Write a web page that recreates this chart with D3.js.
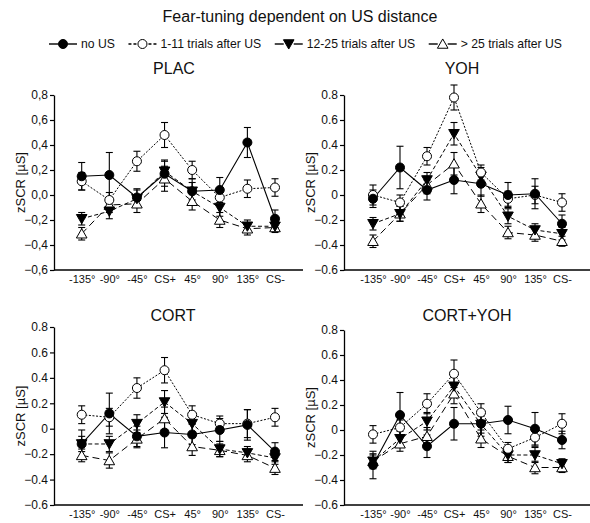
<!DOCTYPE html>
<html>
<head>
<meta charset="utf-8">
<script src="https://cdn.jsdelivr.net/npm/d3@7"></script>
<style>
  html, body { margin: 0; padding: 0; background: #fff; }
  svg { display: block; font-family: Arial, "Liberation Sans", sans-serif; }
</style>
</head>
<body>
<svg id="chart" width="590" height="523"></svg>
<script>
// Generalization stimuli (angle from CS+) on the x axis
const categories = ["-135°", "-90°", "-45°", "CS+", "45°", "90°", "135°", "CS-"];
const yTicks = [-0.6, -0.4, -0.2, 0, 0.2, 0.4, 0.6, 0.8];

const seriesNames = ["no US", "1-11 trials after US", "12-25 trials after US", "> 25 trials after US"];

// PLAC
const placNoUS   = [0.15, 0.16, -0.02, 0.17, 0.03, 0.04, 0.42, -0.19];
const placEarly  = [0.11, -0.04, 0.27, 0.48, 0.20, -0.02, 0.05, 0.06];
const placMid    = [-0.19, -0.13, -0.03, 0.19, 0.03, -0.10, -0.25, -0.25];
const placLate   = [-0.31, -0.08, -0.07, 0.13, -0.05, -0.20, -0.27, -0.26];
const placNoUSErr  = [0.11, 0.18, 0.07, 0.10, 0.10, 0.10, 0.12, 0.07];
const placEarlyErr = [0.07, 0.06, 0.08, 0.10, 0.07, 0.06, 0.07, 0.07];
const placMidErr   = [0.05, 0.06, 0.07, 0.09, 0.07, 0.07, 0.05, 0.04];
const placLateErr  = [0.05, 0.06, 0.07, 0.10, 0.07, 0.06, 0.05, 0.04];

// YOH
const yohNoUS    = [-0.03, 0.22, 0.04, 0.12, 0.09, 0.00, 0.01, -0.23];
const yohEarly   = [0.00, -0.06, 0.31, 0.78, 0.18, -0.03, 0.00, -0.06];
const yohMid     = [-0.23, -0.15, 0.12, 0.49, 0.15, -0.17, -0.28, -0.31];
const yohLate    = [-0.37, -0.15, 0.08, 0.25, -0.07, -0.30, -0.32, -0.37];
const yohNoUSErr  = [0.07, 0.17, 0.08, 0.11, 0.10, 0.10, 0.12, 0.07];
const yohEarlyErr = [0.08, 0.06, 0.07, 0.10, 0.06, 0.06, 0.07, 0.07];
const yohMidErr   = [0.05, 0.06, 0.06, 0.09, 0.07, 0.06, 0.05, 0.05];
const yohLateErr  = [0.05, 0.06, 0.07, 0.09, 0.07, 0.05, 0.05, 0.04];

// CORT
const cortNoUS   = [-0.12, 0.12, -0.06, -0.03, -0.045, -0.01, 0.03, -0.18];
const cortEarly  = [0.11, 0.09, 0.32, 0.46, 0.11, 0.04, 0.04, 0.09];
const cortMid    = [-0.12, -0.12, 0.04, 0.21, 0.04, -0.16, -0.19, -0.23];
const cortLate   = [-0.21, -0.25, -0.08, 0.08, -0.14, -0.17, -0.21, -0.31];
const cortNoUSErr  = [0.11, 0.16, 0.08, 0.12, 0.08, 0.09, 0.12, 0.07];
const cortEarlyErr = [0.07, 0.07, 0.08, 0.10, 0.07, 0.06, 0.11, 0.07];
const cortMidErr   = [0.06, 0.06, 0.07, 0.09, 0.07, 0.06, 0.05, 0.05];
const cortLateErr  = [0.05, 0.06, 0.07, 0.09, 0.07, 0.05, 0.05, 0.05];

// CORT+YOH
const cyNoUS     = [-0.28, 0.12, -0.13, 0.05, 0.05, 0.08, 0.01, -0.08];
const cyEarly    = [-0.035, 0.02, 0.21, 0.45, 0.14, -0.15, -0.06, 0.05];
const cyMid      = [-0.25, -0.07, 0.07, 0.35, 0.045, -0.20, -0.20, -0.27];
const cyLate     = [-0.25, -0.11, -0.05, 0.29, -0.07, -0.21, -0.30, -0.30];
const cyNoUSErr  = [0.11, 0.18, 0.09, 0.13, 0.10, 0.11, 0.13, 0.07];
const cyEarlyErr = [0.07, 0.06, 0.08, 0.11, 0.07, 0.05, 0.07, 0.08];
const cyMidErr   = [0.06, 0.06, 0.07, 0.08, 0.07, 0.06, 0.06, 0.04];
const cyLateErr  = [0.05, 0.06, 0.07, 0.08, 0.07, 0.05, 0.05, 0.04];

const panels = [
  { title: "PLAC", means: [placNoUS, placEarly, placMid, placLate],
    errs: [placNoUSErr, placEarlyErr, placMidErr, placLateErr],
    axisX: 54, axisEnd: 303, first: 81.7, last: 275, top: 95, bottom: 270,
    titleY: 74, titleX: 174, comma: true },
  { title: "YOH", means: [yohNoUS, yohEarly, yohMid, yohLate],
    errs: [yohNoUSErr, yohEarlyErr, yohMidErr, yohLateErr],
    axisX: 344, axisEnd: 590, first: 373, last: 562, top: 95, bottom: 270,
    titleY: 74, titleX: 462, comma: false },
  { title: "CORT", means: [cortNoUS, cortEarly, cortMid, cortLate],
    errs: [cortNoUSErr, cortEarlyErr, cortMidErr, cortLateErr],
    axisX: 54, axisEnd: 303, first: 81.7, last: 275, top: 327, bottom: 505,
    titleY: 321, titleX: 173, comma: false },
  { title: "CORT+YOH", means: [cyNoUS, cyEarly, cyMid, cyLate],
    errs: [cyNoUSErr, cyEarlyErr, cyMidErr, cyLateErr],
    axisX: 344, axisEnd: 590, first: 373, last: 562, top: 330, bottom: 505,
    titleY: 321, titleX: 467, comma: false }
];

// Line and marker styling per series
const styles = [
  { dash: null,    marker: "circle",       fill: "#000" },
  { dash: "2,1.6", marker: "circle",       fill: "#fff" },
  { dash: "4,2.5", marker: "triangleDown", fill: "#000" },
  { dash: "7,4",   marker: "triangleUp",   fill: "#fff" }
];

const svg = d3.select("#chart");

function markerPath(kind) {
  if (kind === "circle") return d3.symbol(d3.symbolCircle, 64)();
  const s = 5.3;
  if (kind === "triangleDown") return `M${-s},${-s*0.8}L${s},${-s*0.8}L0,${s*0.95}Z`;
  return `M${-s},${s*0.8}L${s},${s*0.8}L0,${-s*0.95}Z`;
}

// Title
svg.append("text").attr("x", 300).attr("y", 22).attr("text-anchor", "middle")
  .attr("font-size", 16).attr("fill", "#111").text("Fear-tuning dependent on US distance");

// Legend: symbol + label, laid out left to right between legendLeft and legendRight
const legendLeft = 49, legendRight = 562, legendY = 44;
const symW = 28, symGap = 4;
const legend = svg.append("g");
const labels = seriesNames.map(n => legend.append("text").attr("y", legendY + 4.3)
  .attr("font-size", 12.2).attr("fill", "#111").text(n));
const widths = labels.map(t => t.node().getComputedTextLength());
const totalW = d3.sum(widths) + seriesNames.length * (symW + symGap);
const itemGap = (legendRight - legendLeft - totalW) / (seriesNames.length - 1);
let cursor = legendLeft;
seriesNames.forEach((n, i) => {
  const x0 = cursor, x1 = cursor + symW, mx = cursor + symW / 2;
  if (i === 1) {
    legend.append("line").attr("x1", x0).attr("x2", x1 + 2)
      .attr("y1", legendY).attr("y2", legendY)
      .attr("stroke", "#000").attr("stroke-width", 1.3).attr("stroke-dasharray", "3,2");
  } else {
    [[x0, mx - 5], [mx + 5, x1]].forEach(([a, b]) => {
      legend.append("line").attr("x1", a).attr("x2", b)
        .attr("y1", legendY).attr("y2", legendY)
        .attr("stroke", "#000").attr("stroke-width", 1.4);
    });
  }
  legend.append("path").attr("d", markerPath(styles[i].marker))
    .attr("transform", `translate(${mx},${legendY})`)
    .attr("fill", styles[i].fill).attr("stroke", "#000").attr("stroke-width", 1);
  labels[i].attr("x", x1 + symGap);
  cursor = x1 + symGap + widths[i] + itemGap;
});

panels.forEach(p => {
  const g = svg.append("g");
  const x = d3.scalePoint().domain(categories).range([p.first, p.last]);
  const y = d3.scaleLinear().domain([-0.6, 0.8]).range([p.bottom, p.top]);

  const fmt = v => {
    if (Math.abs(v) < 1e-9) return p.comma ? "0,0" : "0";
    const s = d3.format(".1f")(v);
    return p.comma ? s.replace(".", ",") : s;
  };

  // y axis
  const yAxis = d3.axisLeft(y).tickValues(yTicks).tickFormat(fmt).tickSizeInner(4).tickSizeOuter(0);
  const ya = g.append("g").attr("transform", `translate(${p.axisX},0)`).call(yAxis);
  ya.select(".domain").attr("stroke", "#000").attr("stroke-width", 1.3);
  ya.selectAll(".tick line").attr("stroke", "#000").attr("stroke-width", 1.2);
  ya.selectAll(".tick text").attr("font-size", 12).attr("fill", "#111")
    .attr("font-family", "Arial, 'Liberation Sans', sans-serif").attr("x", -6);

  // x axis: labels only, baseline line spans the plot
  const xAxis = d3.axisBottom(x).tickSize(0);
  const xa = g.append("g").attr("transform", `translate(0,${p.bottom})`).call(xAxis);
  xa.select(".domain").remove();
  xa.selectAll(".tick text").attr("font-size", 11).attr("fill", "#111")
    .attr("font-family", "Arial, 'Liberation Sans', sans-serif")
    .attr("y", 13).attr("dy", null);
  g.append("line").attr("x1", p.axisX).attr("x2", p.axisEnd)
    .attr("y1", p.bottom).attr("y2", p.bottom).attr("stroke", "#000").attr("stroke-width", 1.3);

  // y label
  g.append("text")
    .attr("transform", `translate(${p.axisX - 29},${(p.top + p.bottom) / 2}) rotate(-90)`)
    .attr("text-anchor", "middle").attr("font-size", 13).attr("fill", "#111")
    .text("zSCR [µS]");

  // panel title
  g.append("text").attr("x", p.titleX).attr("y", p.titleY).attr("text-anchor", "middle")
    .attr("font-size", 16).attr("fill", "#111").text(p.title);

  const line = d3.line().x((d, i) => x(categories[i])).y(d => y(d));

  // connecting lines
  p.means.forEach((m, s) => {
    g.append("path").datum(m).attr("d", line)
      .attr("fill", "none").attr("stroke", "#000")
      .attr("stroke-width", s === 0 ? 1.1 : 1)
      .attr("stroke-dasharray", styles[s].dash);
  });

  // error bars
  p.means.forEach((m, s) => {
    const eb = g.append("g");
    m.forEach((v, i) => {
      const cx = x(categories[i]);
      const e = p.errs[s][i];
      eb.append("line").attr("x1", cx).attr("x2", cx)
        .attr("y1", y(v - e)).attr("y2", y(v + e))
        .attr("stroke", "#000").attr("stroke-width", 1.1);
      [v - e, v + e].forEach(t => {
        eb.append("line").attr("x1", cx - 3.5).attr("x2", cx + 3.5)
          .attr("y1", y(t)).attr("y2", y(t))
          .attr("stroke", "#000").attr("stroke-width", 1.1);
      });
    });
  });

  // markers (drawn last so they sit on top)
  [3, 2, 1, 0].forEach(s => {
    g.append("g").selectAll("path").data(p.means[s]).join("path")
      .attr("d", markerPath(styles[s].marker))
      .attr("transform", (d, i) => `translate(${x(categories[i])},${y(d)})`)
      .attr("fill", styles[s].fill).attr("stroke", "#000").attr("stroke-width", 1);
  });
});
</script>
</body>
</html>
